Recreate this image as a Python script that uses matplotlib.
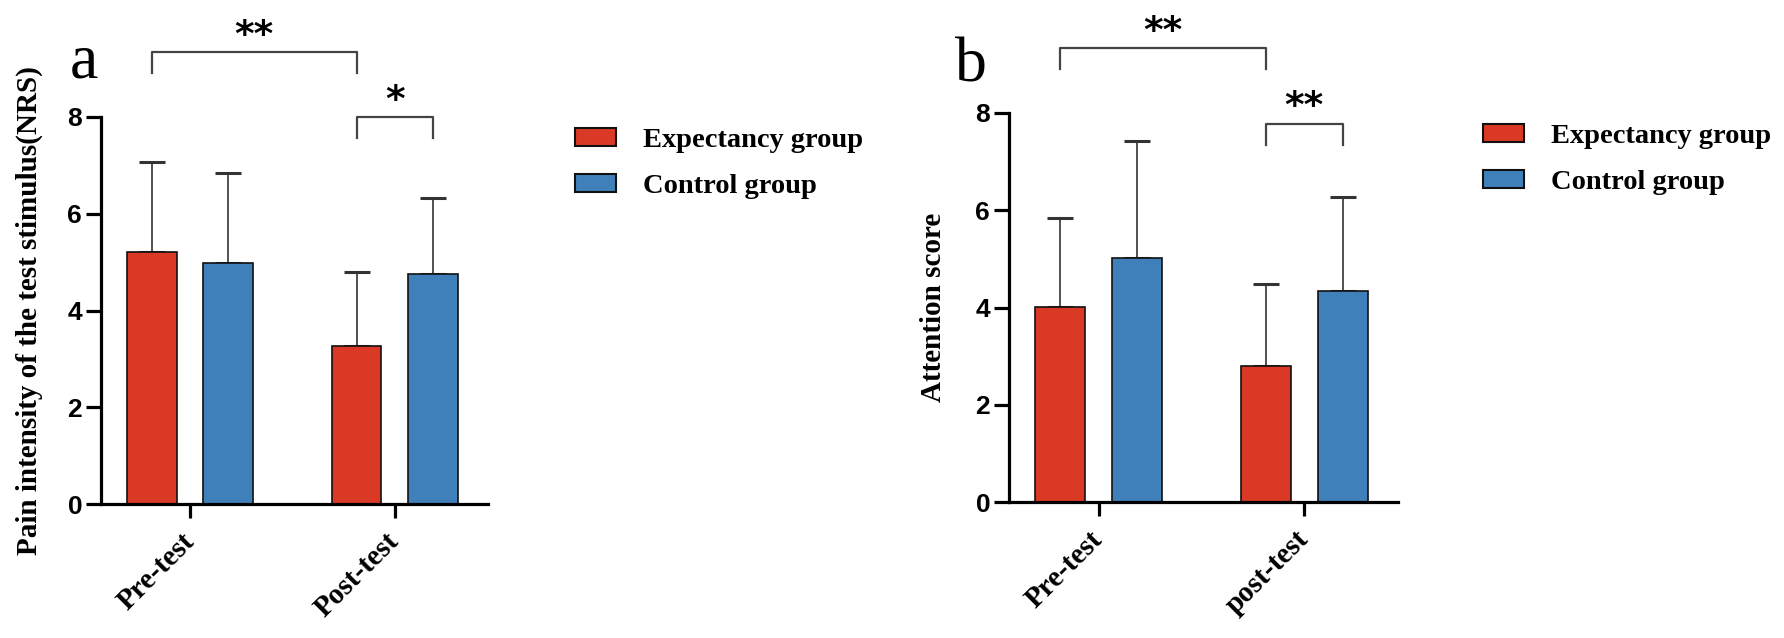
"""
Pain intensity / attention score: expectancy vs control group (pre / post).
Two bar panels with SD error bars and significance brackets -> out.png
"""

import matplotlib
matplotlib.use("Agg")
import matplotlib.pyplot as plt
from matplotlib.patches import Patch

# ── data ──────────────────────────────────────────────
legend_labels = ["Expectancy group", "Control group"]

groups_a = ["Pre-test", "Post-test"]
pain_expectancy_mean = [5.21, 3.27]
pain_expectancy_sd = [1.85, 1.52]
pain_control_mean = [4.99, 4.75]
pain_control_sd = [1.85, 1.57]
# (left bar, right bar, label, height); bars: 0=exp pre, 1=ctl pre, 2=exp post, 3=ctl post
pain_sig = [(0, 2, "**", 9.34), (2, 3, "*", 8.0)]

groups_b = ["Pre-test", "post-test"]
att_expectancy_mean = [4.01, 2.80]
att_expectancy_sd = [1.83, 1.69]
att_control_mean = [5.02, 4.34]
att_control_sd = [2.41, 1.94]
att_sig = [(0, 2, "**", 9.34), (2, 3, "**", 7.78)]

yticks = [0, 2, 4, 6, 8]

# ── style ─────────────────────────────────────────────
RED = "#DA3A25"
BLUE = "#4080BA"
SERIF = "Liberation Serif"
SANS = "Liberation Sans"
W, H = 1784, 638

BAR_W = 0.243
OFF = 0.187


def draw_panel(ax, groups, exp_mean, exp_sd, ctl_mean, ctl_sd, sig, ylabel, label_x):
    xs = list(range(len(groups)))
    x_exp = [x - OFF for x in xs]
    x_ctl = [x + OFF for x in xs]
    ax.bar(x_exp, exp_mean, BAR_W, color=RED, edgecolor="#111111", linewidth=1.2, zorder=2)
    ax.bar(x_ctl, ctl_mean, BAR_W, color=BLUE, edgecolor="#111111", linewidth=1.2, zorder=2)
    for xx, m, s in [(x_exp, exp_mean, exp_sd), (x_ctl, ctl_mean, ctl_sd)]:
        ax.errorbar(xx, m, yerr=[[0] * len(m), s], fmt="none", ecolor="#333333",
                    elinewidth=1.2, capsize=9.4, capthick=2.2, zorder=1)

    # 有意差ブラケット
    bar_x = [x_exp[0], x_ctl[0], x_exp[1], x_ctl[1]]
    for i, j, lab, h in sig:
        x1, x2 = bar_x[i], bar_x[j]
        drop = 0.43
        ax.plot([x1, x1, x2, x2], [h - drop, h, h, h - drop], color="#444444",
                lw=1.6, clip_on=False, zorder=3)
        ax.annotate(lab, xy=((x1 + x2) / 2, h + 0.5), xytext=(0, -13),
                    textcoords="offset points", ha="center", va="baseline",
                    fontsize=27, fontweight="bold", family="DejaVu Sans",
                    annotation_clip=False)

    ax.set_xlim(-0.435, 1.455)
    ax.set_ylim(0, 8)
    ax.set_yticks(yticks)
    ax.set_xticks(xs)
    ax.set_xticklabels(groups, rotation=45, ha="right", va="center",
                       rotation_mode="anchor", family=SERIF, fontweight="bold", fontsize=21)
    for t in ax.get_yticklabels():
        t.set_family(SANS)
        t.set_fontweight("bold")
        t.set_fontsize(19)
    for side in ["top", "right"]:
        ax.spines[side].set_visible(False)
    for side in ["left", "bottom"]:
        ax.spines[side].set_linewidth(2.3)
    ax.tick_params(axis="y", length=10.5, width=2.3, pad=3)
    ax.tick_params(axis="x", length=10, width=2.3, pad=14)
    ax.set_ylabel(ylabel, family=SERIF, fontweight="bold", fontsize=21)
    ax.yaxis.set_label_coords(label_x, 0.5)


fig = plt.figure(figsize=(W / 100, H / 100), dpi=100)

ax_a = fig.add_axes([101 / W, (H - 504) / H, 387 / W, 387 / H])
draw_panel(ax_a, groups_a, pain_expectancy_mean, pain_expectancy_sd,
           pain_control_mean, pain_control_sd, pain_sig,
           "Pain intensity of the test stimulus(NRS)", -0.15)

ax_b = fig.add_axes([1009 / W, (H - 502) / H, 389 / W, 389 / H])
draw_panel(ax_b, groups_b, att_expectancy_mean, att_expectancy_sd,
           att_control_mean, att_control_sd, att_sig,
           "Attention score", -0.16)

# パネル記号
fig.text(70 / W, 1 - 78 / H, "a", family=SERIF, fontsize=46, va="baseline", ha="left")
fig.text(955 / W, 1 - 82 / H, "b", family=SERIF, fontsize=46, va="baseline", ha="left")

# 凡例
handles = [Patch(facecolor=RED, edgecolor="#111111", linewidth=1.5),
           Patch(facecolor=BLUE, edgecolor="#111111", linewidth=1.5)]
for ax, (lx, ly) in [(ax_a, (575, 128)), (ax_b, (1483, 124))]:
    ax.legend(handles, legend_labels, loc="upper left", bbox_to_anchor=(lx / W, 1 - ly / H),
              bbox_transform=fig.transFigure, frameon=False,
              prop={"family": SERIF, "weight": "bold", "size": 20.5},
              handlelength=1.45, handleheight=0.61, handletextpad=0.94,
              labelspacing=0.72, borderpad=0, borderaxespad=0)

fig.savefig("out.png", dpi=100)
